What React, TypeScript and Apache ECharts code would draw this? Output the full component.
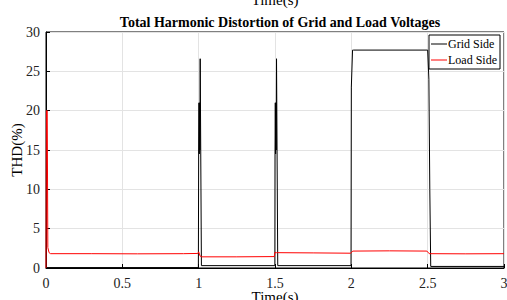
import React, { useEffect, useRef } from "react";
import * as echarts from "echarts";

const xTicks = [0, 0.5, 1, 1.5, 2, 2.5, 3];
const gridTimes = [0, 0.998, 1.0, 1.002, 1.004, 1.006, 1.008, 1.01, 1.014, 1.018, 1.499, 1.5, 1.502, 1.504, 1.506, 1.508, 1.51, 1.514, 1.518, 1.998, 2.0, 2.008, 2.014, 2.018, 2.5, 2.508, 2.514, 2.52, 3.0];
const gridValues = [0.05, 0.05, 14.5, 21, 14.5, 21, 15, 26.6, 26.6, 0.3, 0.3, 14.5, 21, 14.5, 21, 15, 26.6, 26.6, 0.3, 0.3, 23, 27.7, 27.7, 27.7, 27.7, 24, 10, 0.2, 0.2];
const loadTimes = [0, 0.003, 0.008, 0.012, 0.02, 0.03, 0.3, 0.6, 0.9, 0.995, 1.0, 1.01, 1.02, 1.25, 1.495, 1.5, 1.51, 1.75, 1.995, 2.01, 2.25, 2.495, 2.51, 2.75, 3.0];
const loadValues = [0, 20, 20, 2.6, 1.95, 1.82, 1.82, 1.8, 1.82, 1.85, 2.05, 1.5, 1.42, 1.42, 1.45, 2.0, 1.95, 1.92, 1.88, 2.15, 2.18, 2.15, 1.82, 1.8, 1.82];

export default function App() {
  const ref = useRef<HTMLDivElement>(null);
  useEffect(() => {
    document.body.style.margin = "0";
    const chart = echarts.init(ref.current!, undefined, { renderer: "svg" });
    const font = "Liberation Serif";
    chart.setOption({
      animation: false,
      backgroundColor: "#fff",
      textStyle: { fontFamily: font },
      title: {
        text: "Total Harmonic Distortion of Grid and Load Voltages",
        left: 275,
        textAlign: "center",
        top: 10,
        textStyle: { fontFamily: font, fontSize: 14, fontWeight: "bold", color: "#000" },
      },
      graphic: [
        {
          type: "text",
          x: 275,
          y: -8,
          style: { text: "Time(s)", fontFamily: font, fontSize: 15, fill: "#000", textAlign: "center" },
        },
        {
          type: "text",
          x: 275,
          y: 297,
          style: { text: "Time(s)", fontFamily: font, fontSize: 15, fill: "#000", textAlign: "center", textVerticalAlign: "middle" },
        },
        {
          type: "text",
          x: 17,
          y: 150,
          rotation: Math.PI / 2,
          style: { text: "THD(%)", fontFamily: font, fontSize: 15, fill: "#000", textAlign: "center", textVerticalAlign: "middle" },
        },
      ],
      legend: {
        right: 7,
        top: 35,
        orient: "vertical",
        itemWidth: 16,
        itemHeight: 1,
        itemGap: 4,
        padding: [3, 3, 3, 2],
        borderColor: "#000",
        borderWidth: 1,
        backgroundColor: "#fff",
        textStyle: { fontFamily: font, fontSize: 12, color: "#000", padding: [0, 0, 0, -4] },
        data: [
          { name: "Grid Side", icon: "rect" },
          { name: "Load Side", icon: "rect" },
        ],
      },
      grid: {
        left: 46,
        right: 3,
        top: 32,
        bottom: 32,
        outerBoundsMode: "none",
        containLabel: false,
        show: true,
        borderColor: "#000",
        borderWidth: 1,
        backgroundColor: "transparent",
      },
      xAxis: {
        type: "value",
        min: 0,
        max: 3,
        interval: 0.5,
        axisLine: { lineStyle: { color: "#000" } },
        axisTick: { inside: true, length: 4, lineStyle: { color: "#000" } },
        axisLabel: { fontFamily: font, fontSize: 14, color: "#222", margin: 8, formatter: (v: number) => String(v) },
        splitLine: { show: true, lineStyle: { color: "#e3e3e3" } },
        data: xTicks,
      },
      yAxis: {
        type: "value",
        min: 0,
        max: 30,
        interval: 5,
        axisLine: { show: true, lineStyle: { color: "#000" } },
        axisTick: { show: true, inside: true, length: 4, lineStyle: { color: "#000" } },
        axisLabel: { fontFamily: font, fontSize: 14, color: "#222", margin: 6 },
        splitLine: { show: true, lineStyle: { color: "#e3e3e3" } },
      },
      series: [
        {
          name: "Grid Side",
          type: "line",
          symbol: "none",
          color: "#000",
          lineStyle: { width: 1, color: "#000" },
          data: gridTimes.map((t, i) => [t, gridValues[i]]),
        },
        {
          name: "Load Side",
          type: "line",
          symbol: "none",
          color: "#ff0000",
          lineStyle: { width: 1, color: "#ff0000" },
          data: loadTimes.map((t, i) => [t, loadValues[i]]),
        },
      ],
    });
    return () => chart.dispose();
  }, []);
  return <div ref={ref} style={{ width: 507, height: 300 }} />;
}
